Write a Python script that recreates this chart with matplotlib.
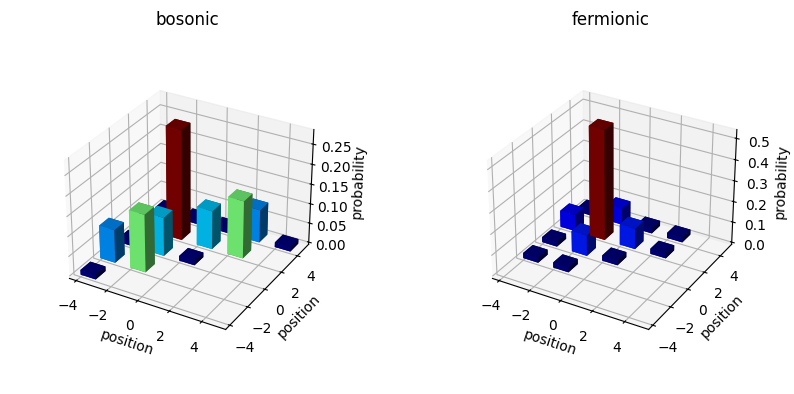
import numpy as np
import matplotlib
matplotlib.use('Agg')
import matplotlib.pyplot as plt

positions = [-4, -2, 0, 2, 4]
# (row, col) index into positions for each bar
bos_i = [0, 0, 0, 0, 0, 1, 1, 1, 1, 2, 2, 2, 3, 3, 4]
bos_j = [0, 1, 2, 3, 4, 1, 2, 3, 4, 2, 3, 4, 3, 4, 4]
bos_p = [0.012, 0.084, 0.012, 0.012, 0.012, 0.146, 0.098, 0.28, 0.012, 0.012, 0.098, 0.012, 0.146, 0.084, 0.012]

fer_i = [0, 0, 0, 0, 1, 1, 1, 1, 2, 2, 2, 3, 3]
fer_j = [1, 2, 3, 4, 1, 2, 3, 4, 2, 3, 4, 3, 4]
fer_p = [0.025, 0.025, 0.08, 0.025, 0.025, 0.1, 0.53, 0.08, 0.025, 0.1, 0.025, 0.025, 0.025]


def bars(ax, ii, jj, p, title):
    x = np.array(positions)[ii]
    y = np.array(positions)[jj]
    dz = np.array(p)
    c = plt.cm.jet((dz - dz.min()) / (dz.max() - dz.min()))
    ax.bar3d(x, y, np.zeros(len(x)), 1, 1, dz, color=c)
    ax.set_xlim(-4.45, 5.45)
    ax.set_ylim(-4.45, 5.45)
    ax.set_xticks([-4, -2, 0, 2, 4])
    ax.set_yticks([-4, -2, 0, 2, 4])
    ax.tick_params(axis='x', pad=1.5)
    ax.tick_params(axis='y', pad=1.5)
    ax.tick_params(axis='z', pad=2)
    ax.set_xlabel('position', labelpad=-1)
    ax.set_ylabel('position', labelpad=-1)
    ax.set_zlabel('probability', labelpad=0)
    ax.set_title(title, pad=32)


w = 278 / 794
h = 278 / 394
fig = plt.figure(figsize=(7.94, 3.94), dpi=100)
ax1 = fig.add_axes([(187.5 - 139) / 794, 47 / 394, w, h], projection='3d')
ax2 = fig.add_axes([(610.5 - 139) / 794, 47 / 394, w, h], projection='3d')
bars(ax1, bos_i, bos_j, bos_p, 'bosonic')
bars(ax2, fer_i, fer_j, fer_p, 'fermionic')
fig.savefig('out.png', dpi=100)
